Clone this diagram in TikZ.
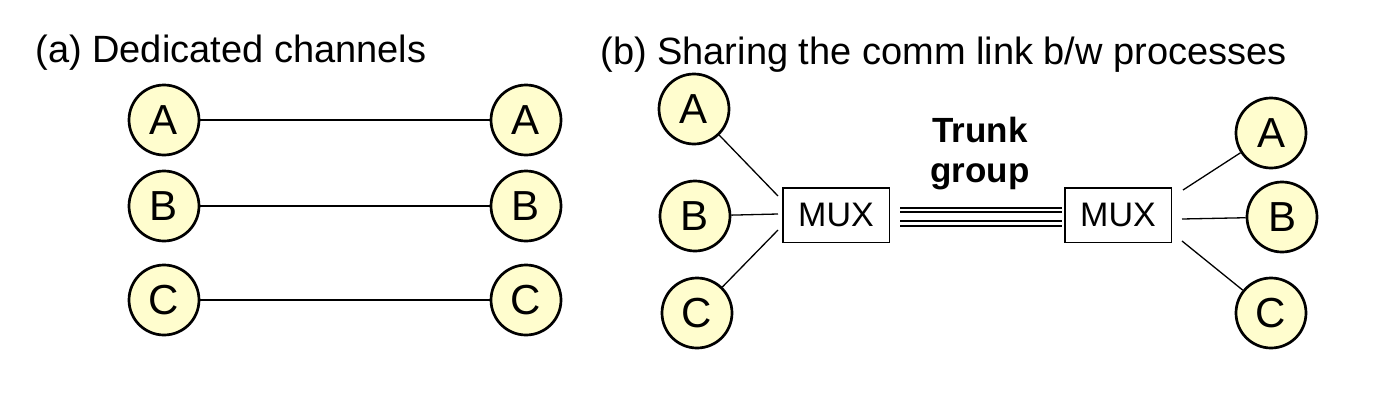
\documentclass[tikz,border=0pt]{standalone}
\usepackage{fontspec}
\setmainfont{Liberation Sans}
\definecolor{chan}{RGB}{255,253,206}
\tikzset{
	proc/.style={circle, draw, line width=1.35pt, fill=chan, minimum size=35pt, inner sep=0pt, font=\fontsize{21}{24}\selectfont},
	mux/.style={rectangle, draw, line width=0.75pt, minimum width=53.25pt, minimum height=27.25pt, inner sep=0pt, font=\fontsize{17}{20}\selectfont},
	title/.style={anchor=base west, inner sep=0pt, font=\fontsize{19}{22}\selectfont},
	trunk/.style={anchor=base, inner sep=0pt, font=\fontsize{17.5}{20}\selectfont\bfseries},
	wire/.style={line width=0.65pt}
}

\begin{document}
\begin{tikzpicture}[x=0.5pt, y=-0.5pt]
		\useasboundingbox (0,0) rectangle (1378,418);

		\node[title] at (35,62)(ta){(a) Dedicated channels};
		\node[title] at (600,64)(tb){(b) Sharing the comm link b/w processes};

		\node[proc] at (164,120)(a1){A};
		\node[proc] at (164,206)(b1){B};
		\node[proc] at (164,300)(c1){C};
		\node[proc] at (526,120)(a2){A};
		\node[proc] at (526,206)(b2){B};
		\node[proc] at (526,300)(c2){C};

		\path[wire] (a1) edge (a2)(b1)edge(b2)(c1)edge(c2);

		\node[proc] at (694,109)(la){A};
		\node[proc] at (695,216)(lb){B};
		\node[proc] at (697,313)(lc){C};
		\node[mux] at (836,215)(muxl){MUX};

		\node[mux] at (1118,215)(muxr){MUX};
		\node[proc] at (1271,133)(ra){A};
		\node[proc] at (1282,217)(rb){B};
		\node[proc] at (1271,313)(rc){C};

		\node[trunk] at (980,142)(trk){Trunk};
		\node[trunk] at (980,182)(grp){group};

		\coordinate (ina) at (778,196);
		\coordinate (inb) at (778,214);
		\coordinate (inc) at (778,230);
		\coordinate (outa) at (1183,190);
		\coordinate (outb) at (1182,219);
		\coordinate (outc) at (1182,241);

		\path[wire] (la) edge (ina)(lb)edge(inb)(lc)edge(inc);
		\path[wire] (outa) edge (ra)(outb)edge(rb)(outc)edge(rc);

		\foreach \d in {-7,-3,6,11}
			\draw[wire] ([shift={(10,\d)}]muxl.east) -- ([shift={(-2,\d)}]muxr.west);
	\end{tikzpicture}
\end{document}
